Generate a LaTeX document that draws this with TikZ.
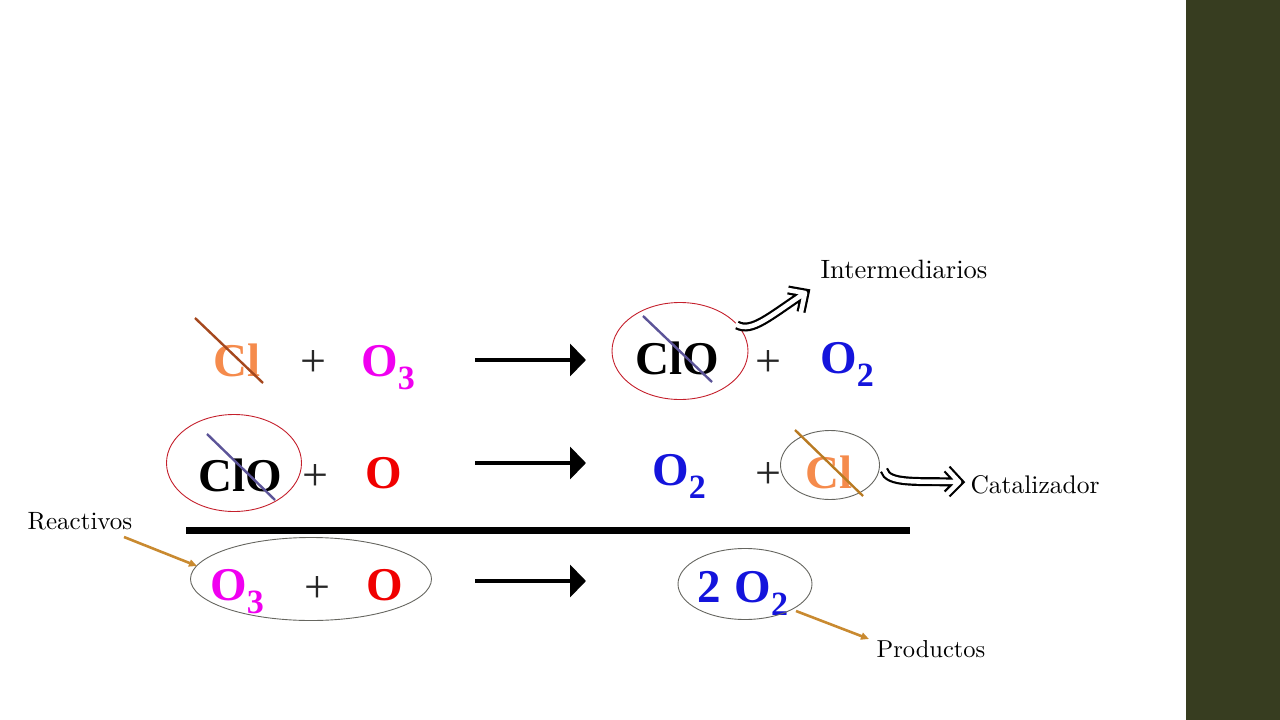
\documentclass[tikz,border=0pt]{standalone}
\usepackage{fontspec}
\newfontfamily\chemfont{Liberation Serif}
\newfontfamily\tagfont{lmroman10-regular}[Extension=.otf]
\usetikzlibrary{arrows.meta,shapes.geometric}

\definecolor{sidebar}{HTML}{373D20}
\definecolor{clcolor}{HTML}{F58B4C}
\definecolor{othree}{HTML}{F000F0}
\definecolor{oxred}{HTML}{F00000}
\definecolor{otwo}{HTML}{1414DC}
\definecolor{ringred}{HTML}{C4202C}
\definecolor{ringgray}{HTML}{666660}
\definecolor{strikebrown}{HTML}{A5481E}
\definecolor{strikepurple}{HTML}{5C5498}
\definecolor{strikegold}{HTML}{B87A22}
\definecolor{pointer}{HTML}{C98A30}

\newcommand{\subnum}[1]{\raisebox{-13pt}{\fontsize{34}{34}\selectfont #1}}

\tikzset{
    chem/.style = {inner sep = 0pt, font = \chemfont\bfseries\fontsize{47}{47}\selectfont},
    plus/.style = {inner sep = 0pt, font = \chemfont\fontsize{46}{46}\selectfont, text = black!85},
    tag/.style = {inner sep = 0pt, font = \tagfont\fontsize{#1}{30}\selectfont},
    ring/.style = {draw = #1, ellipse, line width = 0.9pt, inner sep = 0pt},
    strike/.style = {draw = #1, line width = 2.4pt},
    rxn/.style = {-{Triangle[length = 16pt, width = 32pt]}, line width = 4.4pt, black},
    hollow/.style = {preaction = {draw, black, line width = 9pt}, draw = white, line width = 4.6pt,
        line join = round, line cap = round},
    pointer/.style = {-{Triangle[length = 8pt, width = 7pt]}, draw = pointer, fill = pointer, line width = 2.6pt}
}

\begin{document}
\begin{tikzpicture}[x = 1pt, y = -1pt]
    \useasboundingbox (0,0) rectangle (1280,720);
    \fill[sidebar] (1186,0) rectangle (1280,720);

    % first step
    \node[chem, text = clcolor] (clA) at (237,360) {Cl};
    \node[plus] (plusA) at (313,364) {+};
    \node[chem, text = othree, anchor = base west] (othreeA) at (361,376) {O\subnum{3}};
    \coordinate (rxnAs) at (475,360);
    \coordinate (rxnAe) at (586,360);
    \draw[rxn] (rxnAs) -- (rxnAe);
    \node[chem] (cloA) at (677,358) {ClO};
    \node[plus] (plusB) at (768,364) {+};
    \node[chem, text = otwo, anchor = base west] (otwoA) at (820,373) {O\subnum{2}};

    % second step
    \node[chem] (cloB) at (240,475) {ClO};
    \node[plus] (plusC) at (315,478) {+};
    \node[chem, text = oxred] (oxA) at (384,473) {O};
    \coordinate (rxnBs) at (475,463);
    \coordinate (rxnBe) at (586,463);
    \draw[rxn] (rxnBs) -- (rxnBe);
    \node[chem, text = otwo, anchor = base west] (otwoB) at (652,485) {O\subnum{2}};
    \node[plus] (plusD) at (768,476) {+};
    \node[chem, text = clcolor] (clB) at (829,472) {Cl};

    % the sum
    \coordinate (barS) at (186,530);
    \coordinate (barE) at (910,530);
    \draw[line width = 7pt] (barS) -- (barE);
    \node[chem, text = othree, anchor = base west] (othreeB) at (210,600) {O\subnum{3}};
    \node[plus] (plusE) at (317,589) {+};
    \node[chem, text = oxred] (oxB) at (385,585) {O};
    \coordinate (rxnCs) at (475,581);
    \coordinate (rxnCe) at (586,581);
    \draw[rxn] (rxnCs) -- (rxnCe);
    \node[chem, text = otwo, anchor = base west] (twootwo) at (697,602) {2\hspace{2pt} O\subnum{2}};

    % rings
    \node[ring = ringred, minimum width = 136pt, minimum height = 97pt] (ringA) at (680,351) {};
    \node[ring = ringred, minimum width = 135pt, minimum height = 97pt] (ringB) at (234,463) {};
    \node[ring = ringgray, minimum width = 99pt, minimum height = 69pt] (ringC) at (830,465) {};
    \node[ring = ringgray, minimum width = 241pt, minimum height = 83pt] (ringD) at (311,579) {};
    \node[ring = ringgray, minimum width = 134pt, minimum height = 71pt] (ringE) at (745,584) {};

    % strikes
    \coordinate (sAs) at (195,318);
    \coordinate (sAe) at (263,383);
    \coordinate (sBs) at (643,316);
    \coordinate (sBe) at (712,382);
    \coordinate (sCs) at (207,434);
    \coordinate (sCe) at (275,500);
    \coordinate (sDs) at (795,430);
    \coordinate (sDe) at (863,496);
    \draw[strike = strikebrown] (sAs) -- (sAe);
    \draw[strike = strikepurple] (sBs) -- (sBe);
    \draw[strike = strikepurple] (sCs) -- (sCe);
    \draw[strike = strikegold] (sDs) -- (sDe);

    % labels
    \node[tag = 26.5] (lblInter) at (904,269) {Intermediarios};
    \node[tag = 25.5] (lblCat) at (1035,485) {Catalizador};
    \node[tag = 25] (lblReact) at (80,521) {Reactivos};
    \node[tag = 24.5] (lblProd) at (931,649) {Productos};

    % pointers
    \coordinate (ptrAs) at (124,537);
    \coordinate (ptrAe) at (197,566);
    \coordinate (ptrBs) at (796,611);
    \coordinate (ptrBe) at (869,639);
    \draw[pointer] (ptrAs) -- (ptrAe);
    \draw[pointer] (ptrBs) -- (ptrBe);

    % hollow arrows
    \coordinate (holAs) at (737,325);
    \coordinate (holAe) at (805,293);
    \coordinate (holAu) at (788,290);
    \coordinate (holAd) at (801,312);
    \path[hollow] (holAs) .. controls (752,333) and (770,316) .. (holAe)
        (holAu) -- (holAe) -- (holAd);
    \coordinate (holBs) at (884,470);
    \coordinate (holBe) at (959,482);
    \coordinate (holBu) at (947,469);
    \coordinate (holBd) at (947,494);
    \path[hollow] (holBs) .. controls (888,484) and (915,481) .. (holBe)
        (holBu) -- (holBe) -- (holBd);
\end{tikzpicture}
\end{document}
